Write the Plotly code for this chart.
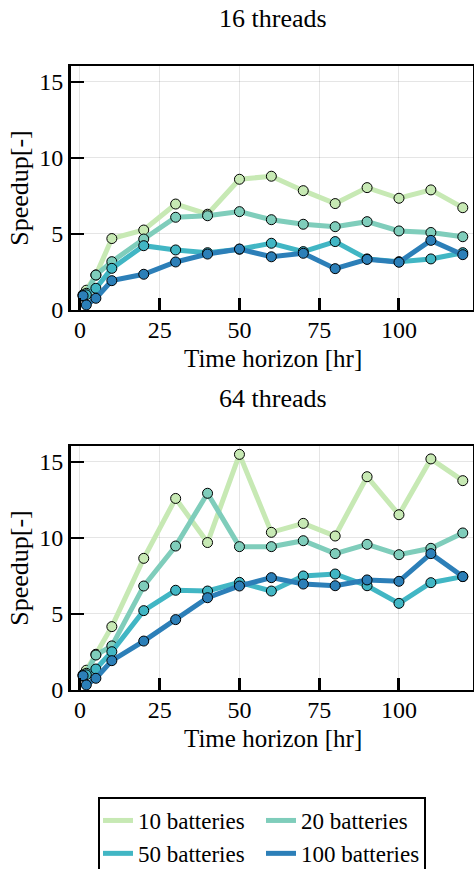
import plotly.graph_objects as go

# ---- data ----
time_horizon = [1, 2, 5, 10, 20, 30, 40, 50, 60, 70, 80, 90, 100, 110, 120]
series_names = ["10 batteries", "20 batteries", "50 batteries", "100 batteries"]

speedup_16 = {
    "10 batteries": [1.0, 1.3, 2.3, 4.7, 5.26, 6.97, 6.3, 8.6, 8.8, 7.85, 7.0, 8.05, 7.35, 7.9, 6.73],
    "20 batteries": [1.0, 1.1, 2.3, 3.18, 4.67, 6.1, 6.2, 6.47, 5.94, 5.64, 5.48, 5.81, 5.2, 5.1, 4.82],
    "50 batteries": [0.9, 1.0, 1.43, 2.74, 4.23, 3.95, 3.77, 4.0, 4.39, 3.84, 4.5, 3.36, 3.18, 3.36, 3.77],
    "100 batteries": [0.94, 0.33, 0.77, 1.93, 2.35, 3.16, 3.68, 4.01, 3.5, 3.73, 2.72, 3.33, 3.14, 4.58, 3.64],
}
speedup_64 = {
    "10 batteries": [1.0, 1.3, 2.35, 4.17, 8.66, 12.6, 9.7, 15.5, 10.37, 10.96, 10.13, 14.03, 11.53, 15.2, 13.77],
    "20 batteries": [1.0, 1.1, 2.3, 2.9, 6.84, 9.47, 12.94, 9.43, 9.43, 9.82, 8.97, 9.58, 8.9, 9.32, 10.33],
    "50 batteries": [0.9, 1.0, 1.38, 2.52, 5.22, 6.56, 6.51, 7.08, 6.51, 7.5, 7.63, 6.86, 5.7, 7.06, 7.46],
    "100 batteries": [0.94, 0.33, 0.77, 1.93, 3.22, 4.63, 6.07, 6.84, 7.39, 6.97, 6.86, 7.24, 7.15, 8.97, 7.46],
}
colors = {
    "10 batteries": "#c7e9b4",
    "20 batteries": "#7fcdbb",
    "50 batteries": "#41b6c4",
    "100 batteries": "#2c7fb8",
}
subplot_titles = ["16 threads", "64 threads"]
x_title = "Time horizon [hr]"
y_title = "Speedup[-]"
x_ticks = [0, 25, 50, 75, 100]
y_ticks = [0, 5, 10, 15]

W, H = 474, 869
FONT = "Liberation Serif, serif"

fig = go.Figure()

for i, data in enumerate([speedup_16, speedup_64]):
    xa = "x" if i == 0 else "x2"
    ya = "y" if i == 0 else "y2"
    for name in series_names:
        fig.add_trace(go.Scatter(
            x=time_horizon, y=data[name], mode="lines", name=name,
            line=dict(color=colors[name], width=5),
            xaxis=xa, yaxis=ya, showlegend=(i == 0), legendgroup=name,
        ))
        fig.add_trace(go.Scatter(
            x=time_horizon, y=data[name], mode="markers", name=name,
            marker=dict(color=colors[name], size=10, line=dict(color="black", width=1)),
            xaxis=xa, yaxis=ya, showlegend=False, legendgroup=name,
        ))

def px(p):
    return p / W

def py(p):
    return 1 - p / H

x_dom = [px(71), px(473)]
y_doms = [[py(310), py(66)], [py(690), py(446)]]

axis_common = dict(
    showline=True, linecolor="black", mirror=True,
    showgrid=True, gridcolor="rgba(0,0,0,0.1)", gridwidth=1,
    zeroline=False, ticks="inside", tickcolor="black",
    tickfont=dict(family=FONT, size=24, color="black"),
    automargin=False,
)

for i in range(2):
    sfx = "" if i == 0 else "2"
    fig.update_layout(**{
        "xaxis" + sfx: dict(
            axis_common, domain=x_dom, range=[-2.8, 123.2],
            tickvals=x_ticks, ticklen=12, tickwidth=3, linewidth=2,
            anchor="y" + sfx, ticklabelstandoff=-3,
        ),
        "yaxis" + sfx: dict(
            axis_common, domain=y_doms[i], range=[0, 16.05],
            tickvals=y_ticks, ticklen=13, tickwidth=2, linewidth=3,
            anchor="x" + sfx,
            title=dict(text=y_title, font=dict(family=FONT, size=26, color="black"), standoff=4),
        ),
    })

for i, t in enumerate(subplot_titles):
    ycen = 18 if i == 0 else 398
    fig.add_annotation(
        text=t, x=px(273), y=py(ycen), xref="paper", yref="paper",
        xanchor="center", yanchor="middle", showarrow=False,
        font=dict(family=FONT, size=26, color="black"),
    )
    xcen = 358 if i == 0 else 738
    fig.add_annotation(
        text=x_title, x=px(273), y=py(xcen), xref="paper", yref="paper",
        xanchor="center", yanchor="middle", showarrow=False,
        font=dict(family=FONT, size=25, color="black"),
    )

fig.update_layout(
    width=W, height=H,
    margin=dict(l=0, r=0, t=0, b=0, autoexpand=False),
    plot_bgcolor="white", paper_bgcolor="white",
    legend=dict(
        orientation="h", x=px(98), y=py(797), xanchor="left", yanchor="top",
        bordercolor="black", borderwidth=2, bgcolor="white",
        font=dict(family=FONT, size=23, color="black"),
        entrywidth=118, itemwidth=30, tracegroupgap=0,
    ),
)

fig.write_html("out.html", config={"displayModeBar": False},
               post_script="document.body.style.margin='0';")
